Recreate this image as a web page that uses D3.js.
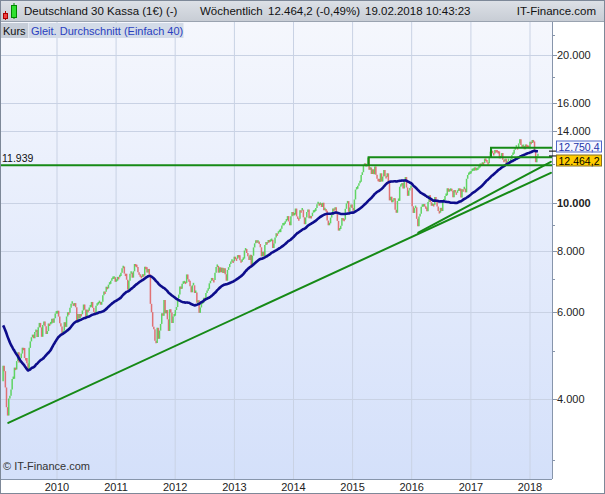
<!DOCTYPE html>
<html><head><meta charset="utf-8">
<script src="https://cdn.jsdelivr.net/npm/d3@7"></script>
<style>
html,body{margin:0;padding:0;background:#fff;}
svg{display:block;font-family:"Liberation Sans",Arial,sans-serif;}
</style></head>
<body>
<script>
// ---- DATA ----
// weekly closes of the 40 weeks before the first drawn week (May 2008 - Jan 2009), used for the 40-week SMA
const priorCloses = [7044,6960,7087,6946,7096,6784,6772,6531,6416,6358,6339,6394,6437,6460,6591,6485,6333,6422,6110,6235,
  6189,6104,5797,4544,4782,4295,4988,4865,4611,4127,4669,4381,4662,4696,4629,4984,4783,4432,4178,4338];
const firstWeek = "2009-02-02";
// weekly closes from week of 2 Feb 2009 to week of 19 Feb 2018
const closes2009 = [4666,4550,4215,3843,3695,4005,4054,4176,4384,4390,4626,4586,4769,4970,4738,4834,4941,5077,5070,4838,
  4836,4720,4576,5074,5230,5332,5398,5308,5466,5518,5340,5586,5703,5585,5344,5650,5743,5615,5414,5488,5687,5663,5686,5817,5709,5831,5957,5957];
const closes2010 = [6037,5875,5696,5608,5434,5500,5722,5598,5877,5995,5982,6120,6235,6250,6180,6259,6136,5716,5947,5830,
  5946,5938,6047,6216,6070,5834,6065,6040,6131,6148,6291,6120,6006,5951,6181,6215,6256,6295,6211,6294,6492,6605,6601,6754,6703,6822,6849,6947,7007,7017,7063,6914];
const closes2011 = [6948,7076,7062,7102,7217,7371,7426,7185,7178,6982,6664,6946,7180,7217,7049,7263,7514,7492,7411,7229,
  7164,7110,7069,7164,7121,7419,7403,7220,7344,7159,6236,5997,5603,5537,5246,5189,5574,5294,5502,5676,5967,5900,6346,5964,6057,5800,5492,6080,5986,5702,5878,5898];
const closes2012 = [6057,6143,6404,6511,6766,6692,6849,6864,6921,6880,7157,6996,6947,6775,6583,6801,6801,6561,6579,6271,
  6339,5978,6131,6229,6263,6416,6410,6557,6630,6690,6865,6945,7040,6971,6970,7214,7412,7451,7216,7398,7233,7380,7203,7363,7163,6950,7309,7405,7518,7597,7636,7612,7776];
const closes2013 = [7715,7702,7834,7833,7652,7594,7661,7708,8004,8060,7912,7795,7658,7845,7459,7814,8122,8278,8399,8305,
  8348,8254,8127,7789,7959,7806,8212,8331,8301,8410,8338,8367,8416,8103,8276,8510,8675,8661,8724,8725,8869,9001,9010,9079,9168,9225,9405,9172,9006,9400,9589,9435];
const closes2014 = [9473,9743,9392,9306,9289,9662,9657,9692,9351,9056,9343,9588,9695,9315,9409,9401,9556,9581,9630,9768,
  9943,9987,9912,9987,9815,10009,9666,9720,9644,9210,9010,9092,9339,9470,9747,9691,9799,9490,9195,8788,8850,8988,9326,9291,9252,9732,9980,10087,9594,9786,9927,9765];
const closes2015 = [9648,10167,10649,10694,10846,10963,11050,11402,11551,11901,12040,11868,12001,12375,11689,11811,11454,11709,11447,11865,
  11413,11197,11196,11040,11492,11058,11316,11673,11347,11308,11490,10985,10124,10298,10038,10123,10229,9688,9553,10096,10104,10795,10850,10988,10708,11119,11293,10752,10340,10608,10727,10743];
const closes2016 = [9849,9545,9764,9798,9286,8967,9388,9513,9824,9831,9950,9851,9794,9622,10051,10373,10039,9870,9952,9916,
  10287,10103,9834,9631,9557,9776,9630,10066,10147,10337,10367,10713,10544,10588,10684,10573,10276,10626,10511,10490,10580,10711,10696,10259,10668,10665,10700,10513,11203,11404,11450,11481];
const closes2017 = [11599,11630,11631,11815,11651,11667,11757,11804,12027,11963,12095,12064,12313,12225,12109,12049,12438,12717,12770,12638,
  12602,12823,12816,12753,12733,12325,12389,12632,12240,12163,12298,12014,12165,12168,12143,12304,12519,12592,12829,12956,12992,12991,13218,13479,13127,12994,13060,12861,13154,13104,13072,12918];
const closes2018 = [13320,13245,13434,13340,12785,12107,12452,12464.2];

const yTicksMajor = [4000,6000,8000,10000,14000,16000,20000];
const yTicksMinor = [3000,5000,7000,9000,12000,18000,22000];
const yearTicks = [2010,2011,2012,2013,2014,2015,2016,2017,2018];
const maPeriod = 40;
const lastClose = 12464.2, lastMA = 12750.4;
const levelValue = 11939;
// drawn trend lines: [startDate, startValue, endDate, endValue]
const trendLines = [
  ["2009-03-06", 3570, "2018-05-10", 11520],
  ["2016-02-11", 8700, "2018-05-10", 12130]
];
// horizontal resistance lines: [startDate, value, valueOfConnector]
const hLines = [
  ["2015-04-10", 12390, 11939],
  ["2017-05-05", 12950, 12390]
];
const headerTexts = [["Deutschland 30 Kassa (1€) (-)",24],["Wöchentlich",200],["12.464,2 (-0,49%)",268],["19.02.2018 10:43:23",365]];

// ---- CHART ----
const W=605,H=494;
const PL=1, PR=552, PT=22, PB=479;
const closes = [].concat(closes2009,closes2010,closes2011,closes2012,closes2013,closes2014,closes2015,closes2016,closes2017,closes2018);
const all = priorCloses.concat(closes);
const start = d3.isoParse(firstWeek + "T00:00:00");
const data = closes.map((c,i)=>{
  const j = i + priorCloses.length;
  const open = all[j-1];
  const ma = d3.mean(all.slice(j-maPeriod+1, j+1));
  return {date: d3.timeWeek.offset(start, i), open, close:c, ma};
});

const x = d3.scaleTime().domain([new Date(2010,0,1), new Date(2018,0,1)]).range([57,530]);
const y = d3.scaleLog().domain([10000,20000]).range([203,55]);

const svg = d3.select("body").append("svg").attr("width",W).attr("height",H);
const defs = svg.append("defs");
const g1 = defs.append("linearGradient").attr("id","bg").attr("x1",0).attr("x2",0).attr("y1",0).attr("y2",1);
g1.append("stop").attr("offset","0%").attr("stop-color","#f5f7fd");
g1.append("stop").attr("offset","100%").attr("stop-color","#d4e0fa");
const g2 = defs.append("linearGradient").attr("id","hdr").attr("x1",0).attr("x2",0).attr("y1",0).attr("y2",1);
g2.append("stop").attr("offset","0%").attr("stop-color","#dde1e7");
g2.append("stop").attr("offset","100%").attr("stop-color","#c8cdd5");
defs.append("clipPath").attr("id","clip").append("rect").attr("x",PL).attr("y",PT).attr("width",PR-PL).attr("height",PB-PT);

svg.append("rect").attr("width",W).attr("height",H).attr("fill","#fff");
svg.append("rect").attr("x",PL).attr("y",PT).attr("width",PR-PL).attr("height",PB-PT).attr("fill","url(#bg)");

// grid
const grid = svg.append("g");
grid.selectAll(".vg").data(yearTicks).join("line")
  .attr("x1",d=>x(new Date(d,0,1))).attr("x2",d=>x(new Date(d,0,1)))
  .attr("y1",PT).attr("y2",PB).attr("stroke","#c9d2e4").attr("stroke-width",1);
grid.selectAll(".hg").data(yTicksMajor).join("line")
  .attr("x1",PL).attr("x2",PR).attr("y1",d=>Math.round(y(d))+0.5).attr("y2",d=>Math.round(y(d))+0.5)
  .attr("stroke","#c9d2e4").attr("stroke-width",1);

const plot = svg.append("g").attr("clip-path","url(#clip)");
// candles (body from previous close to close)
plot.selectAll(".c").data(data).join("line")
  .attr("x1",d=>x(d.date)).attr("x2",d=>x(d.date))
  .attr("y1",d=>y(d.open)).attr("y2",d=>{const a=y(d.open),b=y(d.close);return Math.abs(a-b)<2.5?(b>a?a+2.5:a-2.5):b;})
  .attr("stroke",d=>d.close>=d.open?"#48d048":"#e05c5c").attr("stroke-width",1.5).attr("stroke-opacity",0.85);

// SMA 40
plot.append("path").datum(data)
  .attr("d",d3.line().x(d=>x(d.date)).y(d=>y(d.ma)).curve(d3.curveMonotoneX))
  .attr("fill","none").attr("stroke","#0d0d8c").attr("stroke-width",2.6).attr("stroke-linejoin","round");

// level line
const green = "#168a16";
plot.append("line").attr("x1",PL).attr("x2",PR).attr("y1",y(levelValue)).attr("y2",y(levelValue))
  .attr("stroke",green).attr("stroke-width",2);
// horizontal lines with connectors
hLines.forEach(h=>{
  const xs = x(d3.isoParse(h[0]+"T00:00:00"));
  plot.append("path").attr("d",`M${xs},${y(h[2])}V${y(h[1])}H${PR}`)
    .attr("fill","none").attr("stroke",green).attr("stroke-width",2);
});
// trend lines
plot.selectAll(".tl").data(trendLines).join("line")
  .attr("x1",d=>x(d3.isoParse(d[0]+"T00:00:00"))).attr("y1",d=>y(d[1]))
  .attr("x2",d=>x(d3.isoParse(d[2]+"T00:00:00"))).attr("y2",d=>y(d[3]))
  .attr("stroke",green).attr("stroke-width",2).attr("stroke-linecap","round");

svg.append("text").attr("x",2).attr("y",y(levelValue)-3).attr("font-size",10.5).attr("fill","#111").text(d3.format(",")(levelValue).replace(/,/g,"."));

// y axis
svg.append("line").attr("x1",PR+0.5).attr("x2",PR+0.5).attr("y1",PT).attr("y2",PB).attr("stroke","#8795ab");
svg.selectAll(".ymt").data(yTicksMajor).join("line")
  .attr("x1",PR).attr("x2",PR+5).attr("y1",d=>Math.round(y(d))+0.5).attr("y2",d=>Math.round(y(d))+0.5).attr("stroke","#8795ab");
svg.selectAll(".ymi").data(yTicksMinor).join("line")
  .attr("x1",PR).attr("x2",PR+3).attr("y1",d=>Math.round(y(d))+0.5).attr("y2",d=>Math.round(y(d))+0.5).attr("stroke","#8795ab");
const fmtK = v => d3.format(",")(v).replace(/,/g,".");
svg.selectAll(".yl").data(yTicksMajor).join("text")
  .attr("x",PR+5).attr("y",d=>y(d)+4).attr("font-size",11).attr("fill","#222")
  .attr("font-weight",d=>d===10000?"bold":"normal").text(fmtK);

// x axis labels
svg.selectAll(".xl").data(yearTicks).join("text")
  .attr("x",d=>x(new Date(d,0,1))).attr("y",PB+12).attr("text-anchor","middle")
  .attr("font-size",11).attr("fill","#222").text(d=>d);
svg.append("line").attr("x1",PL).attr("x2",PR).attr("y1",PB+0.5).attr("y2",PB+0.5).attr("stroke","#8795ab");

// price labels
const fmtP = v => v.toFixed(1).replace(/\B(?=(\d{3})+(?!\d))/g,".").replace(/\.(\d)$/,",$1");
function priceLabel(v, yc, fill, stroke, color){
  svg.append("line").attr("x1",PR-3).attr("x2",PR+5).attr("y1",y(v)).attr("y2",y(v)).attr("stroke","#000");
  svg.append("rect").attr("x",556.5).attr("y",yc-5.5).attr("width",45).attr("height",11).attr("fill",fill).attr("stroke",stroke);
  svg.append("text").attr("x",558.5).attr("y",yc+4).attr("font-size",10.5).attr("textLength",41).attr("lengthAdjust","spacingAndGlyphs")
    .attr("fill",color).text(fmtP(v));
}
priceLabel(lastMA, 146.5, "#f4f6ff", "#5068c8", "#2233aa");
priceLabel(lastClose, 160.5, "#ffcc00", "#8a7020", "#000");

// header
svg.append("rect").attr("x",0).attr("y",0).attr("width",W).attr("height",21).attr("fill","url(#hdr)");
svg.append("line").attr("x1",0).attr("x2",W).attr("y1",21.5).attr("y2",21.5).attr("stroke","#9aa3b0");
// icon
svg.append("line").attr("x1",5.5).attr("x2",5.5).attr("y1",11).attr("y2",20).attr("stroke","#b00");
svg.append("rect").attr("x",3.5).attr("y",13.5).attr("width",4).attr("height",5).attr("fill","#f04040").attr("stroke","#a00");
svg.append("line").attr("x1",14).attr("x2",14).attr("y1",3).attr("y2",19).attr("stroke","#080");
svg.append("rect").attr("x",11.5).attr("y",5.5).attr("width",5).attr("height",12).attr("fill","#30e030").attr("stroke","#080");
svg.selectAll(".ht").data(headerTexts).join("text").attr("x",d=>d[1]).attr("y",15).attr("font-size",11.5).attr("fill","#111").text(d=>d[0]);
svg.append("text").attr("x",596).attr("y",15).attr("text-anchor","end").attr("font-size",11.5).attr("fill","#111").text("IT-Finance.com");

// legend row
svg.append("rect").attr("x",1).attr("y",23).attr("width",27).attr("height",15).attr("fill","#c6cdd8");
svg.append("text").attr("x",3).attr("y",34.5).attr("font-size",11).attr("fill","#111").text("Kurs");
svg.append("rect").attr("x",28.5).attr("y",23).attr("width",155).attr("height",15).attr("fill","#d3dbe8");
svg.append("text").attr("x",31).attr("y",34.5).attr("font-size",11).attr("fill","#2a3fc0").text("Gleit. Durchschnitt (Einfach 40)");

svg.append("text").attr("x",3).attr("y",PB-9).attr("font-size",11).attr("fill","#333").text("© IT-Finance.com");

// outer frame
svg.append("rect").attr("x",0.5).attr("y",0.5).attr("width",W-1).attr("height",H-1).attr("fill","none").attr("stroke","#7d8898");
</script>
</body></html>
